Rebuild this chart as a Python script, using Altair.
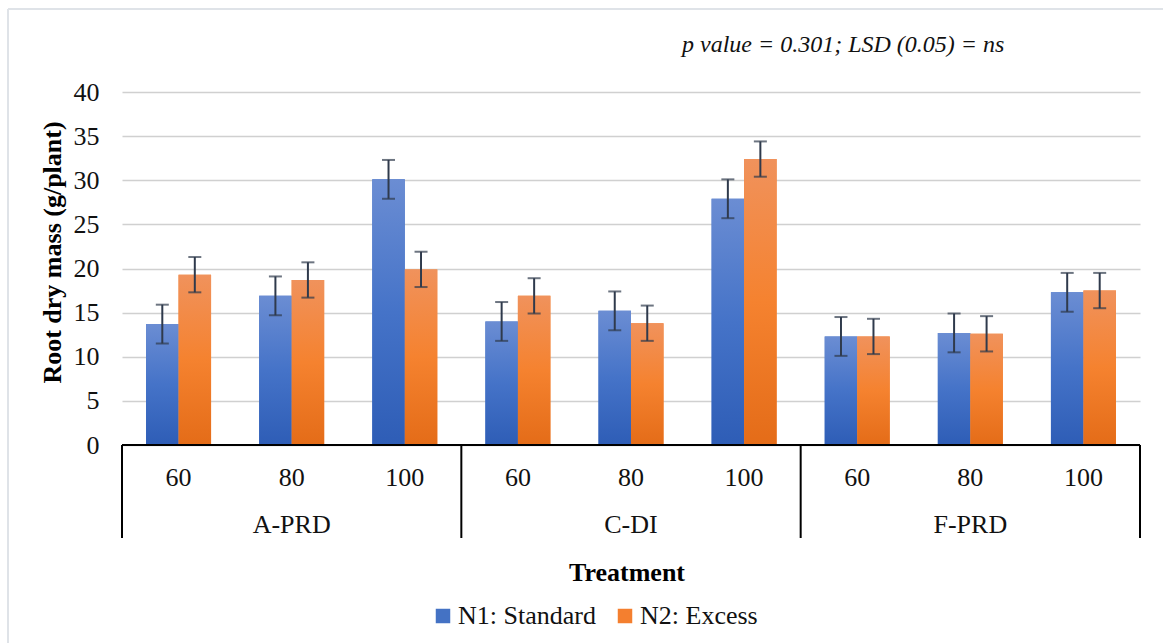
import altair as alt
import pandas as pd

# ---------------- data ----------------
groups = ["A-PRD", "C-DI", "F-PRD"]
levels = ["60", "80", "100"]
series = ["N1: Standard", "N2: Excess"]
n1_values = [13.7, 16.9, 30.1, 14.0, 15.2, 27.9, 12.3, 12.7, 17.3]
n2_values = [19.3, 18.7, 19.9, 16.9, 13.8, 32.4, 12.3, 12.6, 17.5]
n1_err = [2.2, 2.2, 2.2, 2.2, 2.2, 2.2, 2.2, 2.2, 2.2]
n2_err = [2.0, 2.0, 2.0, 2.0, 2.0, 2.0, 2.0, 2.0, 2.0]
y_ticks = [0, 5, 10, 15, 20, 25, 30, 35, 40]
annotation = "p value = 0.301; LSD (0.05) = ns"
y_title = "Root dry mass (g/plant)"
x_title = "Treatment"

keys = [f"{g}|{l}" for g in groups for l in levels]
rows = []
i = 0
for g in groups:
    for l in levels:
        k = f"{g}|{l}"
        for s, vals, errs in ((series[0], n1_values, n1_err), (series[1], n2_values, n2_err)):
            rows.append({"key": k, "group": g, "level": l, "series": s,
                         "value": vals[i], "lo": vals[i] - errs[i], "hi": vals[i] + errs[i]})
        i += 1
df = pd.DataFrame(rows)
sub_df = pd.DataFrame({"key": keys, "level": [k.split("|")[1] for k in keys]})
grp_df = pd.DataFrame({"key": [f"{g}|80" for g in groups], "group": groups})
div_df = pd.DataFrame({"key": [f"{g}|60" for g in groups]})
end_df = pd.DataFrame({"key": [keys[-1]]})

FONT = "Liberation Serif"
W, H = 1018, 353

xscale = alt.Scale(domain=keys, paddingInner=0, paddingOuter=0)
X = alt.X("key:N", scale=xscale, axis=None)
XO = alt.XOffset("series:N", scale=alt.Scale(domain=series, paddingInner=0, paddingOuter=0.74))
yscale = alt.Scale(domain=[0, 40])
Y = alt.Y("value:Q", scale=yscale,
          axis=alt.Axis(values=y_ticks, title=y_title, ticks=False, domain=False,
                        labelFont=FONT, labelFontSize=26, labelColor="#111111", labelPadding=23,
                        gridColor="#d0d0d0", gridWidth=1.5,
                        titleFont=FONT, titleFontSize=26, titleFontWeight="bold", titleColor="#000000",
                        titleX=-62, titleY=160, titleAngle=270, titleAlign="center",
                        titleBaseline="alphabetic"))

base = alt.Chart(df)

solid = base.mark_bar().encode(
    x=X, xOffset=XO, y=Y,
    color=alt.Color("series:N", scale=alt.Scale(domain=series, range=["#4472c4", "#f47f2f"]),
                    legend=alt.Legend(title=None, orient="none", legendX=308, legendY=511,
                                      direction="horizontal", symbolType="square", symbolSize=210,
                                      labelFont=FONT, labelFontSize=26, labelColor="#111111",
                                      columnPadding=16, labelOffset=2, padding=0,
                                      symbolStrokeWidth=0)),
)

blue_grad = alt.Gradient(gradient="linear", x1=0, x2=0, y1=0, y2=1,
                         stops=[alt.GradientStop(offset=0, color="#6b8dd3"),
                                alt.GradientStop(offset=0.5, color="#4573c8"),
                                alt.GradientStop(offset=1, color="#2e5db6")])
orange_grad = alt.Gradient(gradient="linear", x1=0, x2=0, y1=0, y2=1,
                           stops=[alt.GradientStop(offset=0, color="#f0925c"),
                                  alt.GradientStop(offset=0.5, color="#f5822f"),
                                  alt.GradientStop(offset=1, color="#e46c18")])

g1 = base.transform_filter(alt.datum.series == series[0]).mark_bar(color=blue_grad).encode(
    x=X, xOffset=XO, y=alt.Y("value:Q", scale=yscale))
g2 = base.transform_filter(alt.datum.series == series[1]).mark_bar(color=orange_grad).encode(
    x=X, xOffset=XO, y=alt.Y("value:Q", scale=yscale))

ERR = "#2f3a4c"
err_rule = base.mark_rule(color=ERR, strokeWidth=2).encode(
    x=X, xOffset=XO, y=alt.Y("lo:Q", scale=yscale), y2="hi:Q")
cap_lo = base.mark_tick(color=ERR, thickness=2, size=13, orient="horizontal").encode(
    x=X, xOffset=XO, y=alt.Y("lo:Q", scale=yscale))
cap_hi = base.mark_tick(color=ERR, thickness=2, size=13, orient="horizontal").encode(
    x=X, xOffset=XO, y=alt.Y("hi:Q", scale=yscale))

baseline = alt.Chart(pd.DataFrame({"v": [0]})).mark_rule(color="#000000", strokeWidth=2).encode(
    y=alt.Y("v:Q", scale=yscale), x=alt.value(0), x2=alt.value(W))

dividers = alt.Chart(div_df).mark_rule(color="#000000", strokeWidth=2).encode(
    x=alt.X("key:N", scale=xscale, bandPosition=0), y=alt.value(H), y2=alt.value(H + 93))
end_div = alt.Chart(end_df).mark_rule(color="#000000", strokeWidth=2).encode(
    x=alt.X("key:N", scale=xscale, bandPosition=1), y=alt.value(H), y2=alt.value(H + 93))

sub_text = alt.Chart(sub_df).mark_text(font=FONT, fontSize=26, color="#111111",
                                       baseline="alphabetic", align="center").encode(
    x=alt.X("key:N", scale=xscale), y=alt.value(394), text="level:N")
grp_text = alt.Chart(grp_df).mark_text(font=FONT, fontSize=26, color="#111111",
                                       baseline="alphabetic", align="center").encode(
    x=alt.X("key:N", scale=xscale), y=alt.value(441), text="group:N")

one = pd.DataFrame({"t": [x_title], "a": [annotation]})
xtitle = alt.Chart(one).mark_text(font=FONT, fontSize=26, fontWeight="bold", color="#000000",
                                  baseline="alphabetic", align="center").encode(
    x=alt.value(505), y=alt.value(489), text="t:N")
annot = alt.Chart(one).mark_text(font=FONT, fontSize=24, fontStyle="italic", color="#111111",
                                 baseline="alphabetic", align="left").encode(
    x=alt.value(560), y=alt.value(-40), text="a:N")

frame_top = alt.Chart(one).mark_rule(color="#dfe3e8", strokeWidth=2).encode(
    x=alt.value(-114), x2=alt.value(1163 - 122), y=alt.value(-83))
frame_left = alt.Chart(one).mark_rule(color="#dfe3e8", strokeWidth=2).encode(
    x=alt.value(-114), y=alt.value(-83), y2=alt.value(643 - 92))

chart = alt.layer(
    frame_top, frame_left, solid, g1, g2, err_rule, cap_lo, cap_hi,
    baseline, dividers, end_div, sub_text, grp_text, xtitle, annot
).properties(
    width=W, height=H,
    autosize=alt.AutoSizeParams(type="none"),
    padding={"left": 122, "top": 92, "right": 23, "bottom": 198},
    background="#ffffff",
).configure_view(stroke=None)

chart.save("out.html", embed_options={"renderer": "svg", "actions": False})
